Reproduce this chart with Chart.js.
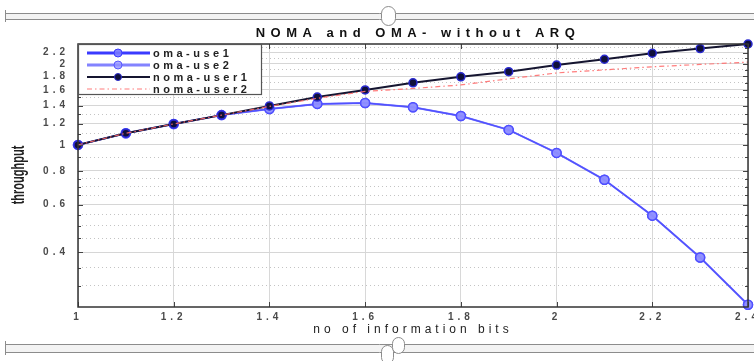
<!DOCTYPE html>
<html>
<head>
<meta charset="utf-8">
<script src="https://cdn.jsdelivr.net/npm/chart.js@4.4.1/dist/chart.umd.min.js"></script>
<style>
  html, body { margin: 0; padding: 0; background: #fff; }
  #wrap { width: 754px; height: 361px; }
</style>
</head>
<body>
<div id="wrap"><canvas id="chart" width="754" height="361"></canvas></div>
<script>
const chartTitle = 'NOMA and OMA- without ARQ';
const xTitle = 'no of information bits';
const yTitle = 'throughput';

// values (y axis is logarithmic)
const bits = [1, 1.1, 1.2, 1.3, 1.4, 1.5, 1.6, 1.7, 1.8, 1.9, 2, 2.1, 2.2, 2.3, 2.4];
const omaUser1 = [1.0, 1.105, 1.196, 1.29, 1.36, 1.42, 1.43, 1.38, 1.28, 1.137, 0.934, 0.742, 0.546, 0.382, 0.255];
const omaUser2 = [1.0, 1.105, 1.196, 1.29, 1.36, 1.42, 1.43, 1.38, 1.28, 1.137, 0.934, 0.742, 0.546, 0.382, 0.255];
const nomaUser1 = [1.0, 1.105, 1.196, 1.29, 1.395, 1.506, 1.6, 1.7, 1.79, 1.87, 1.98, 2.08, 2.19, 2.28, 2.37];
const nomaUser2 = [1.0, 1.105, 1.196, 1.29, 1.39, 1.49, 1.58, 1.62, 1.67, 1.76, 1.85, 1.9, 1.95, 1.99, 2.03];

const xTicks = [1, 1.2, 1.4, 1.6, 1.8, 2, 2.2, 2.4];
const yTicks = [0.4, 0.6, 0.8, 1, 1.2, 1.4, 1.6, 1.8, 2, 2.2];
const yMinorTicks = [0.3, 0.35, 0.45, 0.5, 0.55, 0.65, 0.7, 0.75, 0.9, 1.1, 1.3, 1.5, 1.7, 1.9, 2.1, 2.3];
const seriesNames = ['oma-use1', 'oma-use2', 'noma-user1', 'noma-user2'];

const toPoints = (ys) => bits.map((x, i) => ({ x: x, y: ys[i] }));
const isMajorY = (c) => c.tick && yTicks.includes(c.tick.value);

// frame, inward ticks, legend box, titles and the grey slider bars
const decor = {
  id: 'decor',
  beforeDraw(chart) {
    chart.ctx.letterSpacing = '4px';
  },
  afterDraw(chart) {
    const ctx = chart.ctx;
    const a = chart.chartArea;
    const xs = chart.scales.x, ys = chart.scales.y;
    ctx.save();
    ctx.letterSpacing = '0px';

    ctx.strokeStyle = '#444';
    ctx.lineWidth = 1;
    ctx.beginPath();
    yTicks.concat(yMinorTicks).forEach(v => {
      const y = Math.round(ys.getPixelForValue(v)) + 0.5;
      const len = yTicks.includes(v) ? 5 : 3;
      ctx.moveTo(a.left, y); ctx.lineTo(a.left + len, y);
      ctx.moveTo(a.right, y); ctx.lineTo(a.right - len, y);
    });
    xTicks.forEach(v => {
      const x = Math.round(xs.getPixelForValue(v)) + 0.5;
      ctx.moveTo(x, a.bottom); ctx.lineTo(x, a.bottom - 5);
      ctx.moveTo(x, a.top); ctx.lineTo(x, a.top + 5);
    });
    ctx.stroke();

    ctx.lineWidth = 1.5;
    ctx.strokeStyle = '#333';
    ctx.strokeRect(a.left, a.top, a.right - a.left, a.bottom - a.top);

    // legend
    const lx = a.left, ly = a.top, lw = 183, lh = 50;
    ctx.fillStyle = '#fff';
    ctx.fillRect(lx, ly, lw, lh);
    ctx.lineWidth = 1.2;
    ctx.strokeStyle = '#555';
    ctx.strokeRect(lx + 0.5, ly + 0.5, lw, lh);
    chart.data.datasets.forEach((ds, i) => {
      const y = ly + 9 + i * 12;
      ctx.save();
      ctx.strokeStyle = ds.borderColor;
      ctx.lineWidth = ds.legendWidth;
      ctx.setLineDash(ds.borderDash || []);
      ctx.beginPath();
      ctx.moveTo(lx + 9, y); ctx.lineTo(lx + 72, y);
      ctx.stroke();
      ctx.setLineDash([]);
      if (ds.pointRadius > 0) {
        ctx.beginPath();
        ctx.arc(lx + 40, y, ds.pointRadius - 0.5, 0, Math.PI * 2);
        ctx.fillStyle = ds.pointBackgroundColor;
        ctx.fill();
        ctx.lineWidth = 1;
        ctx.strokeStyle = ds.pointBorderColor;
        ctx.stroke();
      }
      ctx.restore();
      ctx.font = 'bold 11px "Liberation Sans", Arial, sans-serif';
      ctx.letterSpacing = '3.5px';
      ctx.fillStyle = '#222';
      ctx.textAlign = 'left';
      ctx.textBaseline = 'middle';
      ctx.fillText(ds.label, lx + 75, y + 1);
    });

    // chart title
    ctx.font = 'bold 13px "Liberation Sans", Arial, sans-serif';
    ctx.letterSpacing = '5.5px';
    ctx.fillStyle = '#111';
    ctx.textAlign = 'center';
    ctx.textBaseline = 'middle';
    ctx.fillText(chartTitle, (a.left + a.right) / 2 + 5, 33);

    // y title, glyphs stretched sideways like the rest of the picture
    ctx.save();
    ctx.letterSpacing = '0px';
    ctx.translate(19, 175);
    ctx.rotate(-Math.PI / 2);
    ctx.scale(1, 1.6);
    ctx.font = 'bold 11px "Liberation Sans", Arial, sans-serif';
    ctx.fillStyle = '#222';
    ctx.fillText(yTitle, 0, 0);
    ctx.restore();

    // slider bars above and below
    const W = chart.width;
    const bar = (y1, y2, knobs) => {
      ctx.fillStyle = '#f3f3f3';
      ctx.fillRect(5, y1, W - 5, y2 - y1);
      ctx.strokeStyle = '#8c8c8c';
      ctx.lineWidth = 1;
      ctx.beginPath();
      ctx.moveTo(5, y1 + 0.5); ctx.lineTo(W, y1 + 0.5);
      ctx.moveTo(5, y2 + 0.5); ctx.lineTo(W, y2 + 0.5);
      ctx.moveTo(5.5, y1 - 3); ctx.lineTo(5.5, y2 + 3);
      ctx.stroke();
      knobs.forEach(k => {
        ctx.beginPath();
        ctx.roundRect(k[0], k[1], k[2], k[3], k[2] / 2);
        ctx.fillStyle = '#fff';
        ctx.fill();
        ctx.strokeStyle = '#8c8c8c';
        ctx.stroke();
      });
    };
    bar(13, 19, [[381.5, 6.5, 14, 19]]);
    bar(344, 352, [[381.5, 345.5, 12, 18], [392.5, 337.5, 12, 16]]);

    ctx.restore();
  }
};

const tickFont = { family: '"Liberation Sans", Arial, sans-serif', size: 10, weight: 'bold' };

new Chart(document.getElementById('chart'), {
  type: 'line',
  data: {
    datasets: [
      {
        label: seriesNames[0],
        data: toPoints(omaUser1),
        borderColor: '#3a3aff',
        borderWidth: 1.5,
        legendWidth: 3,
        pointRadius: 4.5,
        pointBackgroundColor: 'rgba(120,120,255,0.9)',
        pointBorderColor: '#3a3aff',
        pointBorderWidth: 1.5,
        order: 4
      },
      {
        label: seriesNames[1],
        data: toPoints(omaUser2),
        borderColor: 'rgba(90,90,255,0.75)',
        borderWidth: 2,
        legendWidth: 3,
        pointRadius: 4.5,
        pointBackgroundColor: 'rgba(150,150,255,0.8)',
        pointBorderColor: 'rgba(80,80,255,0.9)',
        pointBorderWidth: 1.5,
        order: 3
      },
      {
        label: seriesNames[2],
        data: toPoints(nomaUser1),
        borderColor: '#151530',
        borderWidth: 2,
        legendWidth: 2,
        pointRadius: 4,
        pointBackgroundColor: '#10103a',
        pointBorderColor: '#2a2ad0',
        pointBorderWidth: 1.5,
        order: 2
      },
      {
        label: seriesNames[3],
        data: toPoints(nomaUser2),
        borderColor: 'rgba(255,110,110,0.9)',
        borderWidth: 1.2,
        legendWidth: 1.2,
        borderDash: [5, 3, 1.5, 3],
        pointRadius: 0,
        order: 1
      }
    ]
  },
  options: {
    responsive: false,
    animation: false,
    clip: false,
    layout: { padding: { top: 44, right: 4, bottom: 0, left: 0 } },
    plugins: {
      legend: { display: false },
      title: { display: false },
      tooltip: { enabled: false }
    },
    scales: {
      x: {
        type: 'linear',
        min: 1,
        max: 2.4,
        afterBuildTicks: (s) => { s.ticks = xTicks.map(v => ({ value: v })); },
        afterFit: (s) => { s.height = 54; s.paddingLeft = 0; s.paddingRight = 0; },
        ticks: {
          autoSkip: false,
          maxRotation: 0,
          padding: 4,
          font: tickFont,
          color: '#4a4a4a',
          callback: (v) => String(v)
        },
        grid: { drawTicks: false, color: '#d8d8d8', lineWidth: 1 },
        border: { display: false },
        title: {
          display: true,
          text: xTitle,
          color: '#222',
          font: { family: '"Liberation Sans", Arial, sans-serif', size: 12 },
          padding: { top: 0, bottom: 24 }
        }
      },
      y: {
        type: 'logarithmic',
        min: 0.25,
        max: 2.37,
        afterBuildTicks: (s) => {
          s.ticks = yTicks.concat(yMinorTicks).sort((p, q) => p - q).map(v => ({ value: v }));
        },
        afterFit: (s) => { s.width = 78; s.paddingTop = 0; s.paddingBottom = 0; },
        ticks: {
          autoSkip: false,
          padding: 9,
          font: tickFont,
          color: '#4a4a4a',
          callback: (v) => yTicks.includes(v) ? String(v) : ''
        },
        grid: {
          drawTicks: false,
          lineWidth: 1,
          color: (c) => isMajorY(c) ? '#d6d6d6' : '#c4c4c4'
        },
        border: {
          display: false,
          dash: (c) => (c.tick && !yTicks.includes(c.tick.value)) ? [1, 3] : []
        }
      }
    }
  },
  plugins: [decor]
});
</script>
</body>
</html>
